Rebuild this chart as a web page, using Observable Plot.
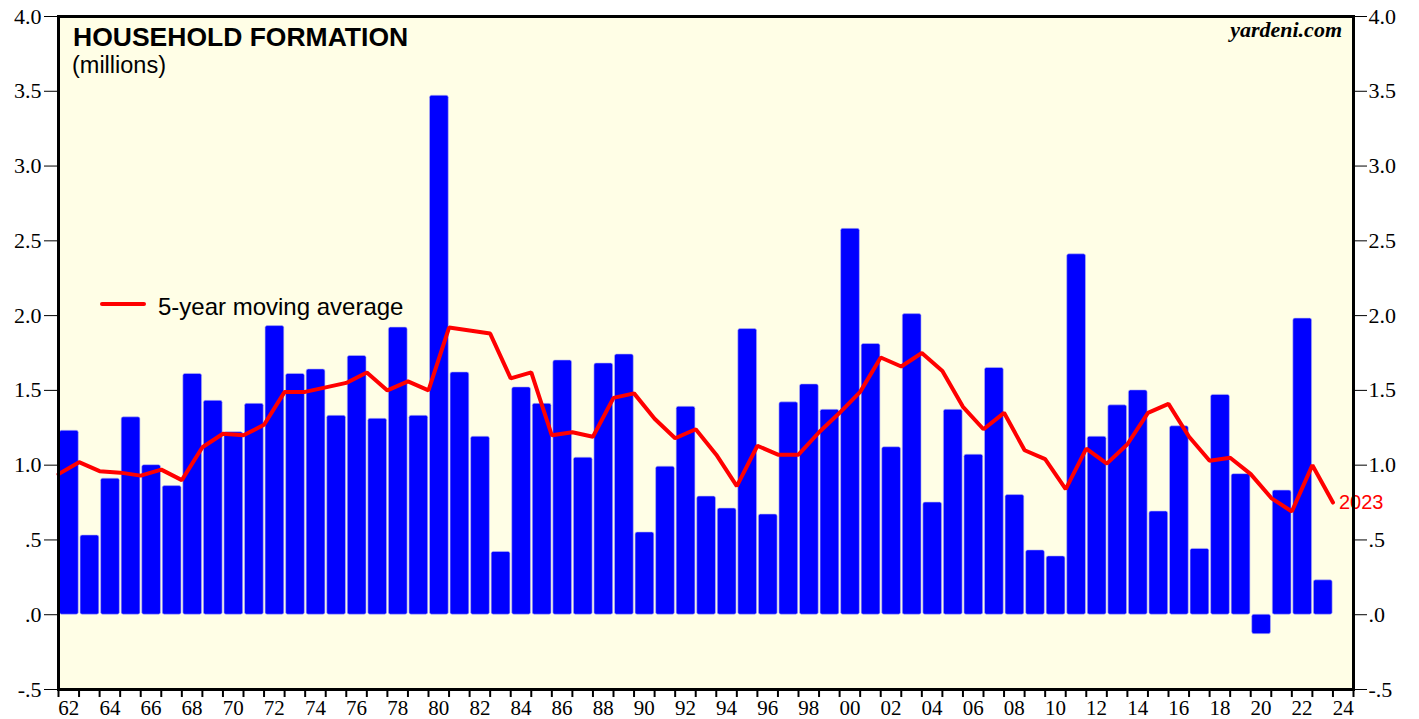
<!DOCTYPE html>
<html>
<head>
<meta charset="utf-8">
<script src="https://cdn.jsdelivr.net/npm/d3@7"></script>
<script src="https://cdn.jsdelivr.net/npm/@observablehq/plot@0.6"></script>
<style>
  body { margin: 0; background: #ffffff; }
  #wrap { position: relative; width: 1419px; height: 719px; overflow: hidden; }
  .ov { position: absolute; white-space: nowrap; line-height: 1; }
  #title { left: 73px; top: 22px; font: bold 26.5px "Liberation Sans", Arial, sans-serif; color: #000; }
  #sub { left: 72px; top: 52px; font: 23.5px "Liberation Sans", Arial, sans-serif; color: #000; }
  #src { right: 77px; top: 17px; font: italic bold 22px "Liberation Serif", "Times New Roman", serif; color: #000; }
  #legline { left: 100px; top: 302px; width: 46px; height: 4px; background: #ff0000; border-radius: 2px; }
  #legtext { left: 158px; top: 293px; font: 24px "Liberation Sans", Arial, sans-serif; color: #000; }
</style>
</head>
<body>
<div id="wrap">
  <div id="chart"></div>
  <div class="ov" id="title">HOUSEHOLD FORMATION</div>
  <div class="ov" id="sub">(millions)</div>
  <div class="ov" id="src">yardeni.com</div>
  <div class="ov" id="legline"></div>
  <div class="ov" id="legtext">5-year moving average</div>
</div>
<script>
// Annual household formation (millions), bars
const years = [1962,1963,1964,1965,1966,1967,1968,1969,1970,1971,1972,1973,1974,1975,1976,1977,1978,1979,
  1980,1981,1982,1983,1984,1985,1986,1987,1988,1989,1990,1991,1992,1993,1994,1995,1996,1997,1998,1999,
  2000,2001,2002,2003,2004,2005,2006,2007,2008,2009,2010,2011,2012,2013,2014,2015,2016,2017,2018,2019,
  2020,2021,2022,2023];
const formation = [1.23,0.53,0.91,1.32,1.00,0.86,1.61,1.43,1.22,1.41,1.93,1.61,1.64,1.33,1.73,1.31,1.92,1.33,
  3.47,1.62,1.19,0.42,1.52,1.41,1.70,1.05,1.68,1.74,0.55,0.99,1.39,0.79,0.71,1.91,0.67,1.42,1.54,1.37,
  2.58,1.81,1.12,2.01,0.75,1.37,1.07,1.65,0.80,0.43,0.39,2.41,1.19,1.40,1.50,0.69,1.26,0.44,1.47,0.94,
  -0.13,0.83,1.98,0.23];

// 5-year moving average, plotted at the end of each year
const maYears = [1961,1962,1963,1964,1965,1966,1967,1968,1969,1970,1971,1972,1973,1974,1975,1976,1977,1978,1979,
  1980,1981,1982,1983,1984,1985,1986,1987,1988,1989,1990,1991,1992,1993,1994,1995,1996,1997,1998,1999,
  2000,2001,2002,2003,2004,2005,2006,2007,2008,2009,2010,2011,2012,2013,2014,2015,2016,2017,2018,2019,
  2020,2021,2022,2023];
const movingAvg = [0.94,1.02,0.96,0.95,0.93,0.97,0.90,1.12,1.21,1.20,1.27,1.49,1.49,1.52,1.55,1.62,1.50,1.56,1.50,
  1.92,1.90,1.88,1.58,1.62,1.20,1.22,1.19,1.45,1.48,1.31,1.18,1.24,1.07,0.86,1.13,1.07,1.07,1.22,1.35,
  1.49,1.72,1.66,1.75,1.63,1.39,1.24,1.35,1.10,1.04,0.84,1.11,1.01,1.14,1.35,1.41,1.19,1.03,1.05,0.94,
  0.78,0.69,1.00,0.75];

// axis ticks and labels
const yTicks = [-0.5,0,0.5,1.0,1.5,2.0,2.5,3.0,3.5,4.0];
const yTickLabels = ["-.5",".0",".5","1.0","1.5","2.0","2.5","3.0","3.5","4.0"];
const xTickYears = [1962,1963,1964,1965,1966,1967,1968,1969,1970,1971,1972,1973,1974,1975,1976,1977,1978,1979,
  1980,1981,1982,1983,1984,1985,1986,1987,1988,1989,1990,1991,1992,1993,1994,1995,1996,1997,1998,1999,
  2000,2001,2002,2003,2004,2005,2006,2007,2008,2009,2010,2011,2012,2013,2014,2015,2016,2017,2018,2019,
  2020,2021,2022,2023,2024,2025];
const xLabelYears = [1962,1964,1966,1968,1970,1972,1974,1976,1978,1980,1982,1984,1986,1988,1990,1992,1994,1996,1998,
  2000,2002,2004,2006,2008,2010,2012,2014,2016,2018,2020,2022,2024];
const xLabels = ["62","64","66","68","70","72","74","76","78","80","82","84","86","88","90","92","94","96","98",
  "00","02","04","06","08","10","12","14","16","18","20","22","24"];
const endLabel = "2023";

const bars = years.map((y, i) => ({year: y, value: formation[i]}));
const ma = maYears.map((y, i) => ({x: y + 1, value: movingAvg[i]}));
const yFmt = d => yTickLabels[yTicks.findIndex(t => Math.abs(t - d) < 1e-9)];
const xFmt = d => xLabels[xLabelYears.indexOf(Math.round(d - 0.5))];

const chart = Plot.plot({
  width: 1419,
  height: 719,
  marginLeft: 58,
  marginRight: 66,
  marginTop: 16,
  marginBottom: 30,
  style: {background: "transparent", fontFamily: "'Liberation Serif','Times New Roman',serif", fontSize: "21px", color: "#000"},
  x: {type: "linear", domain: [1962, 2025], axis: null},
  y: {domain: [-0.5, 4.0], axis: null},
  marks: [
    Plot.frame({fill: "#fffee6"}),
    Plot.rectY(bars, {x1: "year", x2: d => d.year + 1, y1: 0, y2: "value", fill: "#0000ff",
      stroke: "#b8b8f0", strokeWidth: 0.6, insetLeft: 1.5, insetRight: 0.3, rx: 2}),
    Plot.line(ma, {x: "x", y: "value", stroke: "#ff0000", strokeWidth: 4, strokeLinejoin: "miter"}),
    Plot.text(ma.slice(-1), {x: "x", y: "value", text: () => endLabel, fill: "#ff0000", textAnchor: "start",
      dx: 6, fontSize: 20, fontFamily: "'Liberation Sans', Arial, sans-serif"}),
    Plot.axisY({ticks: yTicks, tickFormat: yFmt, anchor: "left", label: null, tickSize: 14, tickPadding: 3, fontSize: 22}),
    Plot.axisY({ticks: yTicks, tickFormat: yFmt, anchor: "right", label: null, tickSize: 13, tickPadding: 2, fontSize: 22}),
    Plot.axisX({ticks: xTickYears, tickFormat: () => "", anchor: "bottom", label: null, tickSize: 8, strokeWidth: 2}),
    Plot.axisX({ticks: xLabelYears.map(y => y + 0.5), tickFormat: xFmt, anchor: "bottom", label: null, tickSize: 0, tickPadding: 11, fontSize: 21}),
    Plot.frame({stroke: "#000", strokeWidth: 3})
  ]
});
document.getElementById("chart").appendChild(chart);
</script>
</body>
</html>
